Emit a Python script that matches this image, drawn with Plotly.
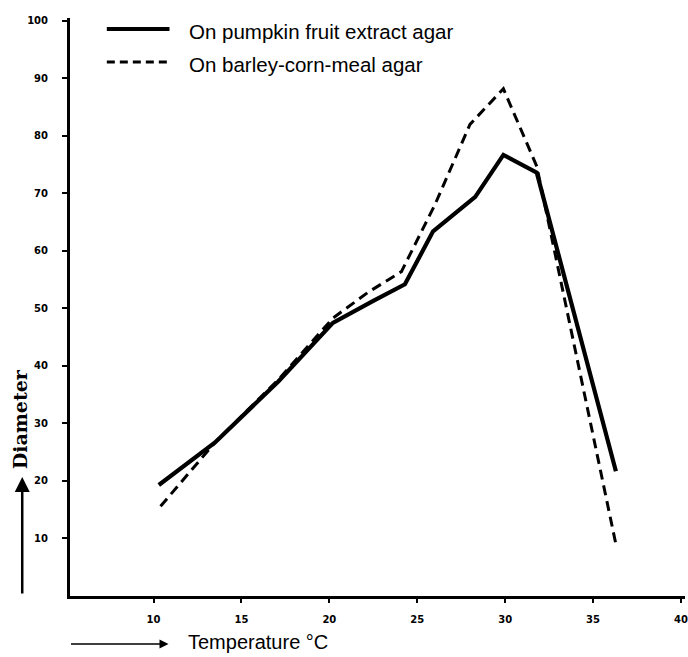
import plotly.graph_objects as go

# ---- data ----
series_names = ["On pumpkin fruit extract agar", "On barley-corn-meal agar"]
temp_pumpkin = [10.3, 13.5, 17.1, 20.2, 22.5, 24.3, 25.9, 28.3, 29.9, 31.8, 36.3]
diam_pumpkin = [19.3, 26.7, 37.3, 47.5, 51.3, 54.2, 63.4, 69.4, 76.7, 73.6, 21.7]
temp_barley = [10.4, 13.5, 17.1, 20.2, 22.2, 24.1, 26.0, 28.0, 29.9, 31.8, 36.3]
diam_barley = [15.6, 26.7, 37.6, 48.3, 52.8, 56.4, 68.0, 82.0, 88.2, 74.7, 9.0]
x_ticks = [10, 15, 20, 25, 30, 35, 40]
y_ticks = [10, 20, 30, 40, 50, 60, 70, 80, 90, 100]
x_title = "Temperature °C"
y_title = "Diameter"

W, H = 688, 657
L, R, T, B = 70, 0, 18, 61
PW, PH = W - L - R, H - T - B


def px(x):
    return (x - L) / PW


def py(y):
    return (H - B - y) / PH


fig = go.Figure()
fig.add_trace(go.Scatter(x=temp_pumpkin, y=diam_pumpkin, mode="lines",
                         name=series_names[0],
                         line=dict(color="black", width=4.2)))
fig.add_trace(go.Scatter(x=temp_barley, y=diam_barley, mode="lines",
                         name=series_names[1],
                         line=dict(color="black", width=3, dash="10px,6px")))

tickfont = dict(family="DejaVu Sans", size=10, color="black", weight="bold")
fig.update_xaxes(range=[5.25, 40.23], tickvals=x_ticks, ticks="outside", ticklen=4,
                 tickwidth=2, tickcolor="black", showline=True, linewidth=3,
                 linecolor="black", showgrid=False, zeroline=False,
                 tickfont=tickfont, ticklabelstandoff=8, ticklabeloverflow="allow")
fig.update_yaxes(range=[0, 100.5], tickvals=y_ticks, ticks="outside", ticklen=5,
                 tickwidth=2, tickcolor="black", showline=True, linewidth=3,
                 linecolor="black", showgrid=False, zeroline=False,
                 tickfont=tickfont, ticklabelstandoff=12)

# legend keys (hand-drawn style legend at top)
fig.add_shape(type="line", xref="paper", yref="paper", x0=px(107), x1=px(170),
              y0=py(29), y1=py(29), line=dict(color="black", width=4))
fig.add_shape(type="line", xref="paper", yref="paper", x0=px(107), x1=px(172),
              y0=py(62), y1=py(62), line=dict(color="black", width=3, dash="8px,5px"))
legfont = dict(family="Liberation Sans", size=20.5, color="black")
fig.add_annotation(text=series_names[0], xref="paper", yref="paper", x=px(188), y=py(31),
                   xanchor="left", yanchor="middle", showarrow=False, font=legfont)
fig.add_annotation(text=series_names[1], xref="paper", yref="paper", x=px(188), y=py(64),
                   xanchor="left", yanchor="middle", showarrow=False, font=legfont)

# axis titles with arrows
fig.add_annotation(text=y_title, xref="paper", yref="paper", x=px(20), y=py(419),
                   textangle=-90, showarrow=False, xanchor="center", yanchor="middle",
                   font=dict(family="DejaVu Serif", size=19, color="black", weight="bold"))
fig.add_annotation(text="", xref="paper", yref="paper", x=px(22), y=py(477),
                   ax=0, ay=118, showarrow=True, arrowhead=2, arrowsize=1.2,
                   arrowwidth=2.5, arrowcolor="black")
fig.add_annotation(text=x_title, xref="paper", yref="paper", x=px(187), y=py(642),
                   xanchor="left", yanchor="middle", showarrow=False,
                   font=dict(family="Liberation Sans", size=20, color="black"))
fig.add_annotation(text="", xref="paper", yref="paper", x=px(169), y=py(644),
                   ax=-99, ay=0, showarrow=True, arrowhead=2, arrowsize=1.2,
                   arrowwidth=1.5, arrowcolor="black")

fig.update_layout(width=W, height=H, margin=dict(l=L, r=R, t=T, b=B),
                  paper_bgcolor="white", plot_bgcolor="white", showlegend=False)

fig.write_html("out.html")
